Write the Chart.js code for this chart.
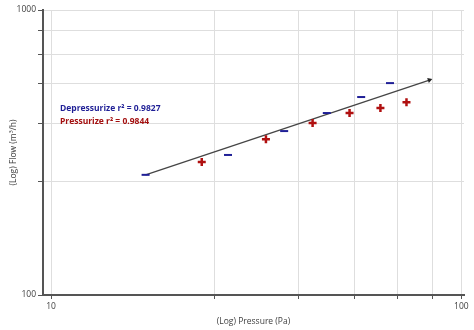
<!DOCTYPE html>
<html><head><meta charset="utf-8">
<script src="https://cdn.jsdelivr.net/npm/chart.js@4/dist/chart.umd.min.js"></script>
<style>html,body{margin:0;padding:0;background:#fff}</style>
</head><body>
<canvas id="c" width="474" height="330"></canvas>
<script>
const depressX = [17, 27, 37, 47, 57, 67];
const depressY = [264, 310, 376, 435, 495, 554];
const pressX = [23.3, 33.4, 43.4, 53.4, 63.5, 73.5];
const pressY = [293, 352, 401, 435, 453, 475];
const fitX = [17, 83.6];
const fitY = [264, 568];
const xTicks = [10, 25, 40, 55, 70, 85, 100];
const yTicks = [100, 250, 400, 550, 700, 850, 1000];
const xLabels = [10, 100];
const yLabels = [100, 1000];
const notes = ['Depressurize r\u00B2 = 0.9827', 'Pressurize r\u00B2 = 0.9844'];
const noteColors = ['#1f1f96', '#a30f0f'];

const FONT = "'Open Sans', 'DejaVu Sans', sans-serif";
const pts = (xs, ys) => xs.map((x, i) => ({x, y: ys[i]}));

const notesPlugin = {
  id: 'notes',
  afterDatasetsDraw(chart) {
    const ctx = chart.ctx, a = chart.chartArea;
    ctx.save();
    ctx.font = "bold 8.5px " + FONT;
    ctx.textBaseline = 'middle';
    ctx.textAlign = 'left';
    notes.forEach((t, i) => {
      ctx.fillStyle = noteColors[i];
      ctx.fillText(t, a.left + 17, a.top + 99 + i * 13);
    });
    ctx.restore();
  }
};

new Chart(document.getElementById('c'), {
  type: 'scatter',
  data: {
    datasets: [
      {
        type: 'line', label: 'fit', data: pts(fitX, fitY),
        borderColor: '#454545', borderWidth: 1.3, backgroundColor: '#222',
        pointRadius: [0, 3], pointStyle: 'triangle', pointRotation: 72,
        pointBorderWidth: 0, fill: false, order: 3
      },
      {
        label: 'Depressurize', data: pts(depressX, depressY),
        pointStyle: 'line', pointRadius: 4, borderWidth: 2,
        borderColor: '#1f1f96', backgroundColor: '#1f1f96', order: 1
      },
      {
        label: 'Pressurize', data: pts(pressX, pressY),
        pointStyle: 'cross', pointRadius: 4, borderWidth: 2.5,
        borderColor: '#b01010', backgroundColor: '#b01010', order: 2
      }
    ]
  },
  options: {
    responsive: false,
    devicePixelRatio: 1,
    animation: false,
    layout: {padding: {top: 10, right: 10, left: 0, bottom: 0}},
    plugins: {legend: {display: false}, tooltip: {enabled: false}},
    scales: {
      x: {
        type: 'logarithmic', min: 9.56, max: 101.5,
        afterBuildTicks: s => { s.ticks = xTicks.map(v => ({value: v})); },
        afterFit: s => { s.height = 35; },
        ticks: {
          autoSkip: false, maxRotation: 0, padding: 2, color: '#404040',
          font: {family: FONT, size: 8.5},
          callback: v => xLabels.includes(v) ? String(v) : ''
        },
        grid: {color: '#dedede', lineWidth: 1, tickColor: '#555', tickLength: 4},
        border: {color: '#555', width: 2},
        title: {display: true, text: '(Log) Pressure (Pa)', color: '#404040',
          font: {family: FONT, size: 8.5}, padding: {top: 0, bottom: 3}}
      },
      y: {
        type: 'logarithmic', min: 100, max: 1000,
        afterBuildTicks: s => { s.ticks = yTicks.map(v => ({value: v})); },
        afterFit: s => { s.width = 43; },
        ticks: {
          autoSkip: false, padding: 2, color: '#404040',
          font: {family: FONT, size: 8.5},
          callback: v => yLabels.includes(v) ? String(v) : ''
        },
        grid: {color: '#dedede', lineWidth: 1, tickColor: '#555', tickLength: 5},
        border: {color: '#555', width: 2},
        title: {display: true, text: '(Log) Flow (m\u00B3/h)', color: '#404040',
          font: {family: FONT, size: 8.5}, padding: {top: 8, bottom: 0}}
      }
    }
  },
  plugins: [notesPlugin]
});
</script>
</body></html>
